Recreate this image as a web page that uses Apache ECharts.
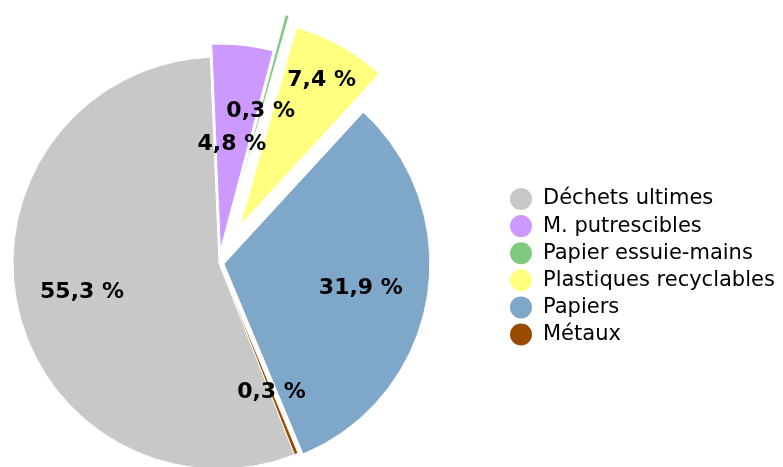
<!DOCTYPE html>
<html>
<head>
<meta charset="utf-8">
<script src="https://cdn.jsdelivr.net/npm/echarts@6/dist/echarts.min.js"></script>
<style>
  html, body { margin: 0; padding: 0; background: #fff; }
  #chart { width: 783px; height: 467px; }
</style>
</head>
<body>
<div id="chart"></div>
<script>
// données (en %)
const names = ["Déchets ultimes", "M. putrescibles", "Papier essuie-mains", "Plastiques recyclables", "Papiers", "Métaux"];
const values = [55.3, 4.8, 0.3, 7.4, 31.9, 0.3];
const colors = ["#c8c8c8", "#cc99ff", "#80c980", "#ffff80", "#7fa7c9", "#994c00"];
// décalage des parts (px)
const explode = [0, 13, 51, 43, 5, 0];
// rayon intérieur de la série des étiquettes (l'étiquette est au milieu)
const labelInner = [68, 0, 0, 122, 66, 68];

const R = 206;
const CENTER = [219, 263];
const START = -68.5;
const FONT = "DejaVu Sans";

function fmt(v) {
  return v.toFixed(1).replace(".", ",") + " %";
}

// une série par part, pour avoir un décalage différent pour chacune
function piePart(owner, withLabel) {
  return {
    type: "pie",
    name: names[owner] + (withLabel ? " label" : ""),
    center: CENTER,
    radius: withLabel ? [labelInner[owner], R] : [0, R],
    startAngle: START,
    clockwise: true,
    selectedMode: "multiple",
    selectedOffset: explode[owner],
    avoidLabelOverlap: false,
    minShowLabelAngle: 0,
    silent: true,
    animation: false,
    z: withLabel ? 3 : 2,
    emphasis: { disabled: true },
    labelLayout: { hideOverlap: false },
    select: { itemStyle: { borderColor: "#fff", borderWidth: withLabel ? 0 : 1 } },
    label: {
      show: false,
      position: "inside",
      color: "#000",
      fontFamily: FONT,
      fontWeight: "bold",
      fontSize: 22,
      overflow: "none",
      formatter: (p) => fmt(p.value),
    },
    labelLine: { show: false },
    data: names.map((n, i) => {
      const mine = i === owner;
      return {
        name: n,
        value: values[i],
        selected: mine,
        itemStyle: mine && !withLabel
          ? { color: colors[i], borderColor: "#fff", borderWidth: 1 }
          : { color: "rgba(0,0,0,0)", borderWidth: 0 },
        label: { show: mine && withLabel },
      };
    }),
  };
}

const series = [];
names.forEach((n, i) => series.push(piePart(i, false)));
names.forEach((n, i) => series.push(piePart(i, true)));

const chart = echarts.init(document.getElementById("chart"), null, { renderer: "canvas" });
chart.setOption({
  backgroundColor: "#fff",
  animation: false,
  legend: {
    orient: "vertical",
    left: 505,
    top: 183,
    icon: "circle",
    itemWidth: 22,
    itemHeight: 22,
    itemGap: 5.1,
    selectedMode: false,
    textStyle: { fontFamily: FONT, fontSize: 21, color: "#000", padding: [0, 0, 0, 6] },
    data: names.map((n, i) => ({ name: n, itemStyle: { color: colors[i] } })),
  },
  series: series,
});
</script>
</body>
</html>
